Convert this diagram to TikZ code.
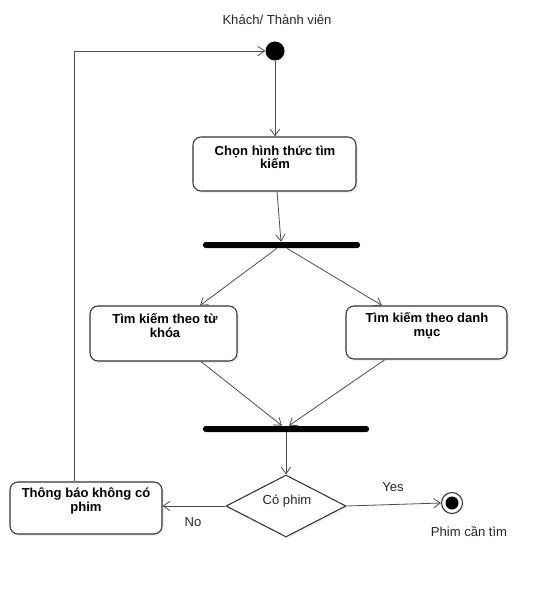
\documentclass[tikz,border=0pt]{standalone}
\usepackage{fontspec}
\setmainfont{Liberation Sans}
\usetikzlibrary{arrows.meta,shapes.geometric,shadows}
\begin{document}
\begin{tikzpicture}[x=0.75pt,y=-0.75pt,
  actbox/.style={draw=black!80,line width=0.8pt,rounded corners=6pt,fill=white,
    drop shadow={shadow xshift=1.5pt,shadow yshift=-1.5pt,fill=black!12},inner sep=0pt},
  btext/.style={font=\fontsize{9.8}{10}\selectfont\bfseries,align=center,inner sep=0pt},
  ltext/.style={font=\fontsize{9.8}{10}\selectfont,inner sep=0pt,text=black!85},
  bar/.style={fill=black,rounded corners=2pt,inner sep=0pt,minimum width=#1,minimum height=4.5pt},
  flow/.style={draw=black!70,line width=0.6pt,-{Straight Barb[length=5pt,width=7pt,line width=0.6pt]}}
]
\useasboundingbox (0,0) rectangle (550,599);

% initial node
\node[circle,fill=black,minimum size=14.25pt,inner sep=0pt,
  drop shadow={shadow xshift=1.2pt,shadow yshift=-1.2pt,fill=black!10}] (start) at (275,51) {};
\node[ltext] (who) at (277,20) {Khách/ Thành viên};

% activities
\node[actbox,minimum width=122.25pt,minimum height=40.5pt] (b1) at (274.5,164) {};
\node[btext] (t1) at (275,157) {Chọn hình thức tìm\\kiếm};

\node[bar=117.75pt] (bar1) at (281.5,245) {};

\node[actbox,minimum width=110.25pt,minimum height=41.25pt] (bl) at (163.5,333.5) {};
\node[btext] (tl) at (165,325.5) {Tìm kiếm theo từ\\khóa};

\node[actbox,minimum width=120.75pt,minimum height=39.75pt] (br) at (426.5,332.5) {};
\node[btext] (tr) at (427,325.5) {Tìm kiếm theo danh\\mục};

\node[bar=124.5pt] (bar2) at (286,429) {};

\node[diamond,draw=black!80,line width=0.8pt,fill=white,inner sep=0pt,
  minimum width=90pt,minimum height=46.5pt,
  drop shadow={shadow xshift=1.5pt,shadow yshift=-1.5pt,fill=black!10}] (dia) at (286,506) {};
\node[ltext] (tdia) at (287,501) {Có phim};

\node[actbox,minimum width=114pt,minimum height=39pt] (bn) at (86,508) {};
\node[btext] (tn) at (86,501) {Thông báo không có\\phim};

% final node
\node[circle,draw=black!80,line width=0.8pt,fill=white,minimum size=15.75pt,inner sep=0pt,
  drop shadow={shadow xshift=1.2pt,shadow yshift=-1.2pt,fill=black!10}] (fin) at (452,503) {};
\node[circle,fill=black,minimum size=9.75pt,inner sep=0pt] (finin) at (fin.center) {};
\node[ltext] (tfin) at (469,532) {Phim cần tìm};

% connectors
\draw[flow] (start) -- (start |- b1.north);
\draw[flow] ([xshift=1.9pt]b1.south) -- ([xshift=-0.4pt]bar1.north);
\draw[flow] ([xshift=-3.4pt]bar1.south) -- ([xshift=27.4pt]bl.north);
\draw[flow] ([xshift=4.1pt]bar1.south) -- ([xshift=-33.4pt]br.north);
\draw[flow] ([xshift=28.1pt]bl.south) -- ([xshift=-3pt]bar2.north);
\draw[flow] ([xshift=-31.1pt]br.south) -- ([xshift=2.2pt]bar2.north);
\draw[flow] (bar2.south) -- (dia.north);
\draw[flow] (dia.east) -- (fin.west);
\draw[flow] (dia.west) -- (dia.west -| bn.east);
\draw[flow] ([xshift=-9pt]bn.north) |- (start.west);

\node[ltext] (yes) at (393,487) {Yes};
\node[ltext] (no) at (193,522) {No};
\end{tikzpicture}
\end{document}
